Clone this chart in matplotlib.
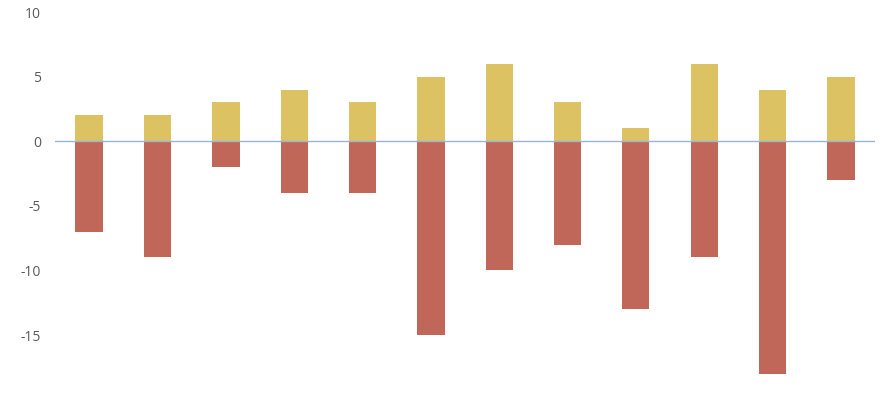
import matplotlib
matplotlib.use("Agg")
import matplotlib.pyplot as plt
import numpy as np

categories = [str(i) for i in range(1, 13)]
positive = [2, 2, 3, 4, 3, 5, 6, 3, 1, 6, 4, 5]
negative = [-7, -9, -2, -4, -4, -15, -10, -8, -13, -9, -18, -3]
yticks = [-15, -10, -5, 0, 5, 10]

plt.rcParams['font.family'] = ['Open Sans', 'DejaVu Sans']

fig = plt.figure(figsize=(8.84, 3.93), dpi=100)
W, H = 884, 393
y_top_px, y_bot_px = 12, 399.6
ax = fig.add_axes([55 / W, (H - y_bot_px) / H, 820 / W, (y_bot_px - y_top_px) / H])

x = np.arange(len(categories))
ax.bar(x, positive, width=0.4, color='#DCC263', zorder=2)
ax.bar(x, negative, width=0.4, color='#C0675A', zorder=2)
ax.axhline(0, color='#9DB3D8', lw=1.0, zorder=3)

ax.set_xlim(-0.5, len(categories) - 0.5)
ax.set_ylim(-20, 10)
ax.set_yticks(yticks)
ax.set_yticklabels([str(v) for v in yticks])
ax.set_xticks([])
ax.tick_params(axis='y', length=0, pad=10, labelsize=10, labelcolor='#595959')
for s in ax.spines.values():
    s.set_visible(False)
ax.patch.set_alpha(0)

fig.savefig("out.png", dpi=100)
